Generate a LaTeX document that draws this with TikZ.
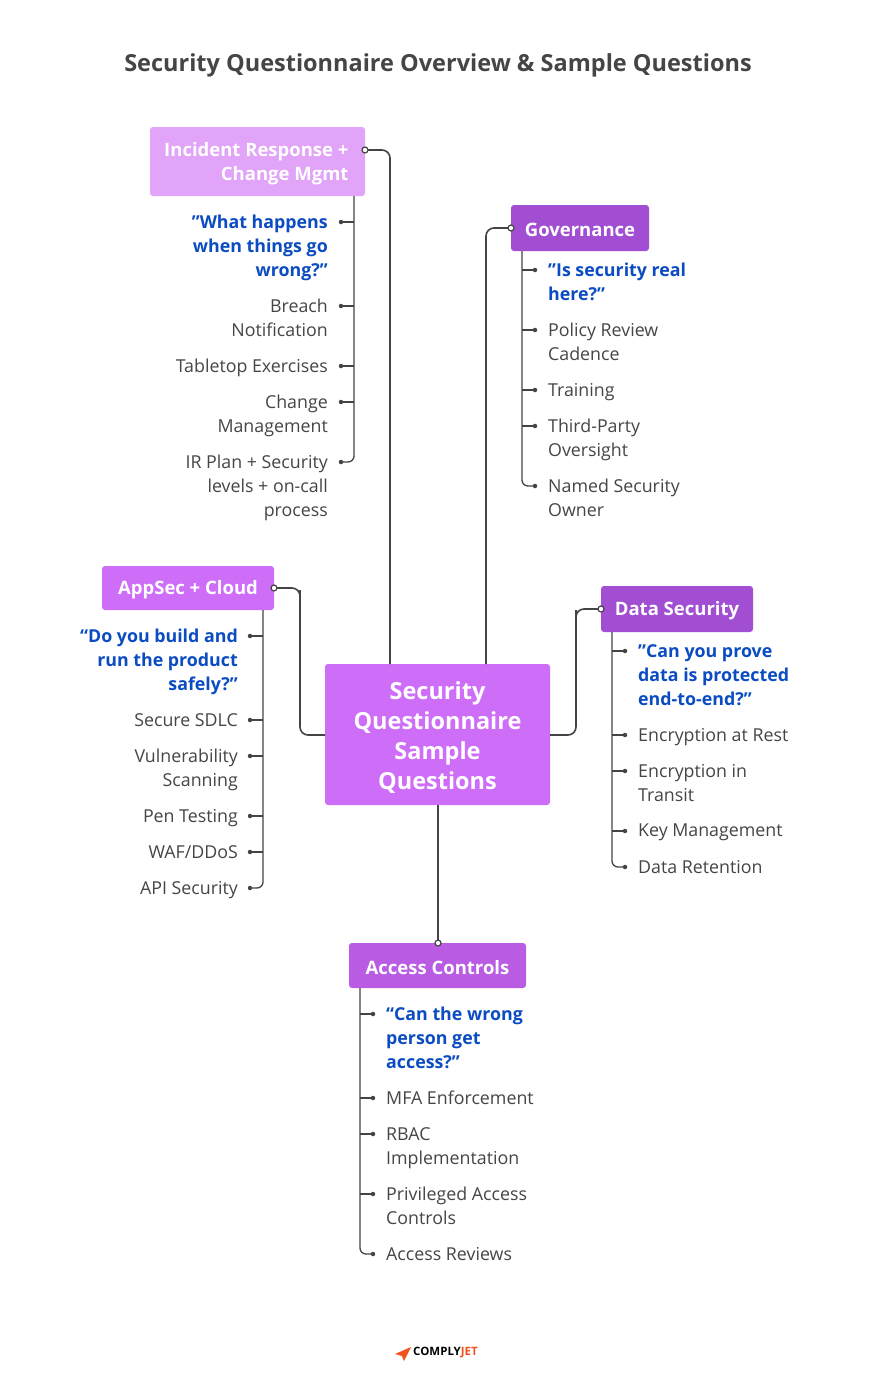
\documentclass[tikz,border=0pt]{standalone}
\usepackage{fontspec}
\setmainfont{Open Sans}
\begin{document}
\begin{tikzpicture}[x=1pt,y=-1pt]
  \definecolor{txt}{HTML}{454545}
  \definecolor{qblue}{HTML}{0B4CC2}
  \definecolor{vmain}{HTML}{CD6DF8}
  \definecolor{vlight}{HTML}{E1A4F8}
  \definecolor{vdark}{HTML}{A24ED3}
  \definecolor{vmid}{HTML}{B95CE3}
  \definecolor{wire}{HTML}{444444}
  \definecolor{jet}{HTML}{F2521E}
  \tikzset{
    box/.style={fill=#1, rounded corners=3pt, text=white, font=\bfseries\fontsize{18}{24}\selectfont, inner sep=0},
    lbl/.style={text=txt, font=\fontsize{17.8}{24}\selectfont, inner sep=0, yshift=-5pt},
    q/.style={text=qblue, font=\bfseries\fontsize{17.8}{24}\selectfont, inner sep=0, yshift=-5pt},
    wire/.style={draw=wire, line width=1.6pt, rounded corners=8pt},
    twig/.style={draw=wire, line width=1.3pt},
    dot/.style={fill=wire, circle, inner sep=0, minimum size=4.5pt},
    ring/.style={draw=wire, fill=white, circle, line width=1.2pt, inner sep=0, minimum size=6pt},
    boxtxt/.style={text=white, font=\bfseries\fontsize{18.5}{24}\selectfont, yshift=-2pt}
  }
  \useasboundingbox[fill=white] (0,0) rectangle (876,1389);

  \node[text=txt, font=\bfseries\fontsize{23.5}{28}\selectfont] (title) at (438,65) {Security Questionnaire Overview \& Sample Questions};

  % boxes
  \path[box=vmain] (325,664) rectangle (550,805);
  \node[text=white, font=\bfseries\fontsize{23.5}{30}\selectfont, align=center, yshift=-2pt] (core) at (437.5,736) {Security\\Questionnaire\\Sample\\Questions};
  \path[box=vlight] (150,127) rectangle (365,196);
  \node[boxtxt, align=right, anchor=east] (ir) at (352,162) {Incident Response +\\Change Mgmt};
  \path[box=vdark] (511,205) rectangle (649,251);
  \node[boxtxt] (gov) at (580,228) {Governance};
  \path[box=vmain] (102,566) rectangle (274,610);
  \node[boxtxt] (app) at (188,588) {AppSec + Cloud};
  \path[box=vdark] (601,586) rectangle (753,632);
  \node[boxtxt] (data) at (677,609) {Data Security};
  \path[box=vmid] (349,943) rectangle (526,988);
  \node[boxtxt] (acc) at (437.5,966) {Access Controls};

  % main connectors
  \coordinate (cIR) at (365,150);
  \coordinate (cGov) at (511,228);
  \coordinate (cApp) at (274,588);
  \coordinate (cData) at (601,609);
  \coordinate (cAcc) at (438,943);
  \draw[wire] (390,664) |- (cIR);
  \draw[wire] (486,664) |- (cGov);
  \draw[wire] (325,735) -| (300,598) |- (cApp);
  \draw[wire] (550,735) -| (576,618) |- (cData);
  \draw[wire] (438,805) -- (cAcc);
  \foreach \c in {cIR,cGov,cApp,cData,cAcc} \node[ring] at (\c) {};

  % Incident Response branch (left side)
  \draw[twig, rounded corners=6pt] (354,196) |- (341,462);
  \foreach \y in {222,306,366,402} {\draw[twig] (354,\y) -- (341,\y); \node[dot] at (341,\y) {};}
  \node[dot] at (341,462) {};
  \node[q, align=right, anchor=north east] (ir1) at (328,210) {"What happens\\when things go\\wrong?"};
  \node[lbl, align=right, anchor=north east] (ir2) at (328,294) {Breach\\Notification};
  \node[lbl, anchor=north east] (ir3) at (328,354) {Tabletop Exercises};
  \node[lbl, align=right, anchor=north east] (ir4) at (328,390) {Change\\Management};
  \node[lbl, align=right, anchor=north east] (ir5) at (328,450) {IR Plan + Security\\levels + on-call\\process};

  % Governance branch
  \draw[twig, rounded corners=6pt] (522,251) |- (535,486);
  \foreach \y in {270,330,390,426} {\draw[twig] (522,\y) -- (535,\y); \node[dot] at (535,\y) {};}
  \node[dot] at (535,486) {};
  \node[q, align=left, anchor=north west] (g1) at (548,258) {"Is security real\\here?"};
  \node[lbl, align=left, anchor=north west] (g2) at (548,318) {Policy Review\\Cadence};
  \node[lbl, anchor=north west] (g3) at (548,378) {Training};
  \node[lbl, align=left, anchor=north west] (g4) at (548,414) {Third-Party\\Oversight};
  \node[lbl, align=left, anchor=north west] (g5) at (548,474) {Named Security\\Owner};

  % AppSec branch
  \draw[twig, rounded corners=6pt] (263,610) |- (250,888);
  \foreach \y in {636,720,756,816,852} {\draw[twig] (263,\y) -- (250,\y); \node[dot] at (250,\y) {};}
  \node[dot] at (250,888) {};
  \node[q, align=right, anchor=north east] (a1) at (238,624) {“Do you build and\\run the product\\safely?”};
  \node[lbl, anchor=north east] (a2) at (238,708) {Secure SDLC};
  \node[lbl, align=right, anchor=north east] (a3) at (238,744) {Vulnerability\\Scanning};
  \node[lbl, anchor=north east] (a4) at (238,804) {Pen Testing};
  \node[lbl, anchor=north east] (a5) at (238,840) {WAF/DDoS};
  \node[lbl, anchor=north east] (a6) at (238,876) {API Security};

  % Data Security branch
  \draw[twig, rounded corners=6pt] (612,632) |- (625,867);
  \foreach \y in {651,735,771,831} {\draw[twig] (612,\y) -- (625,\y); \node[dot] at (625,\y) {};}
  \node[dot] at (625,867) {};
  \node[q, align=left, anchor=north west] (d1) at (638,639) {"Can you prove\\data is protected\\end-to-end?"};
  \node[lbl, anchor=north west] (d2) at (638,723) {Encryption at Rest};
  \node[lbl, align=left, anchor=north west] (d3) at (638,759) {Encryption in\\Transit};
  \node[lbl, anchor=north west] (d4) at (638,819) {Key Management};
  \node[lbl, anchor=north west] (d5) at (638,855) {Data Retention};

  % Access Controls branch
  \draw[twig, rounded corners=6pt] (360,988) |- (373,1254);
  \foreach \y in {1014,1098,1134,1194} {\draw[twig] (360,\y) -- (373,\y); \node[dot] at (373,\y) {};}
  \node[dot] at (373,1254) {};
  \node[q, align=left, anchor=north west] (c1) at (386,1002) {“Can the wrong\\person get\\access?”};
  \node[lbl, anchor=north west] (c2) at (386,1086) {MFA Enforcement};
  \node[lbl, align=left, anchor=north west] (c3) at (386,1122) {RBAC\\Implementation};
  \node[lbl, align=left, anchor=north west] (c4) at (386,1182) {Privileged Access\\Controls};
  \node[lbl, anchor=north west] (c5) at (386,1242) {Access Reviews};

  % logo
  \fill[jet] (395,1354) -- (411,1347) -- (404,1361) -- (402,1356) -- cycle;
  \node[anchor=west, inner sep=0, font=\bfseries\fontsize{11.5}{12}\selectfont] (logo) at (413,1353) {COMPLY\textcolor{jet}{JET}};
\end{tikzpicture}
\end{document}
